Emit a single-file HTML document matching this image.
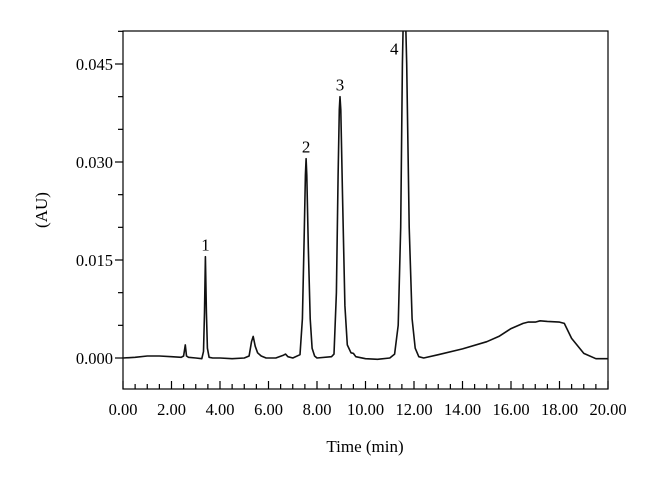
<!DOCTYPE html>
<html><head><meta charset="utf-8"><style>
body{margin:0;background:#fff;}
svg{display:block;font-family:"Liberation Serif",serif;}
</style></head><body>
<svg width="660" height="489" id="c">
<defs><clipPath id="clip"><rect x="123" y="31" width="485" height="358"/></clipPath></defs>
<rect x="123" y="31" width="485" height="358" fill="none" stroke="#000" stroke-width="1.2"/>
<g id="ticks"></g>
<path id="trace" fill="none" stroke="#111" stroke-width="1.6" stroke-linejoin="round" clip-path="url(#clip)"/>
<g id="labels"></g>
<text x="365" y="452" font-size="17" text-anchor="middle">Time (min)</text>
<text transform="translate(47,210) rotate(-90)" font-size="17" text-anchor="middle">(AU)</text>
</svg>
<script>
const times=[0,0.5,1,1.5,2,2.4,2.5,2.57,2.62,2.7,3.0,3.25,3.32,3.36,3.4,3.44,3.48,3.55,3.7,4.0,4.5,5.0,5.2,5.3,5.37,5.45,5.55,5.7,5.9,6.3,6.6,6.7,6.8,7.0,7.3,7.4,7.47,7.52,7.55,7.58,7.64,7.72,7.8,7.9,8.0,8.6,8.7,8.8,8.87,8.92,8.95,8.98,9.05,9.15,9.25,9.4,9.5,9.6,10.0,10.5,11.0,11.2,11.35,11.45,11.52,11.6,11.7,11.8,11.92,12.05,12.2,12.4,13,14,15,15.5,16,16.5,16.7,17,17.2,17.5,18,18.2,18.5,19,19.5,20];
const au=[0,0.0001,0.0003,0.0003,0.0002,0.0001,0.0003,0.002,0.0003,0.0001,0,-0.0001,0.001,0.007,0.0155,0.007,0.0015,0.0001,0,0,-0.0001,0,0.0003,0.0025,0.0033,0.0018,0.0008,0.0003,0,0,0.0004,0.0006,0.0002,0,0.0005,0.006,0.018,0.028,0.0305,0.028,0.017,0.006,0.0015,0.0003,0,0.0002,0.0006,0.01,0.028,0.038,0.040,0.038,0.025,0.008,0.002,0.0008,0.0007,0.0002,-0.0001,-0.0002,0,0.0006,0.005,0.02,0.045,0.06,0.045,0.02,0.006,0.0015,0.0002,0,0.0005,0.0014,0.0025,0.0033,0.0045,0.0053,0.0055,0.0055,0.0057,0.0056,0.0055,0.0053,0.003,0.0007,-0.0001,-0.0001];
const xTicks=["0.00","2.00","4.00","6.00","8.00","10.00","12.00","14.00","16.00","18.00","20.00"];
const yTicks=["0.000","0.015","0.030","0.045"];
const peakLabels=["1","2","3","4"];
const peakTimes=[3.4,7.55,8.95,11.6];
const peakHeights=[0.0155,0.0305,0.040,0.0455];
const X=t=>123+t/20*485, Y=v=>358-v/0.015*98;
const ns="http://www.w3.org/2000/svg";
let d=times.map((t,i)=>(i?"L":"M")+X(t).toFixed(1)+" "+Y(au[i]).toFixed(1)).join(" ");
document.getElementById("trace").setAttribute("d",d);
const tg=document.getElementById("ticks"), lg=document.getElementById("labels");
function line(x1,y1,x2,y2){const l=document.createElementNS(ns,"line");l.setAttribute("x1",x1);l.setAttribute("y1",y1);l.setAttribute("x2",x2);l.setAttribute("y2",y2);l.setAttribute("stroke","#000");l.setAttribute("stroke-width","1.2");


tg.appendChild(l);}
function text(x,y,s,anchor,size){const t=document.createElementNS(ns,"text");t.setAttribute("x",x);t.setAttribute("y",y);t.setAttribute("text-anchor",anchor);t.setAttribute("font-size",size);t.textContent=s;


lg.appendChild(t);}
for(let t=0;t<=20.001;t+=0.5){const major=Math.abs(t%2)<0.01;line(X(t),389,X(t),389-(major?8:5));}
xTicks.forEach(s=>text(X(parseFloat(s)),415,s,"middle",16.5));
for(let k=0;k<=10;k++){const v=k*0.005;const major=k%3==0;line(123,Y(v),123-(major?8:5),Y(v));}
yTicks.forEach(s=>text(113,Y(parseFloat(s))+6,s,"end",16.5));
peakLabels.forEach((s,i)=>text(X(peakTimes[i])-(i==3?10:0),Y(peakHeights[i])-6,s,"middle",17));
</script>
</body></html>
